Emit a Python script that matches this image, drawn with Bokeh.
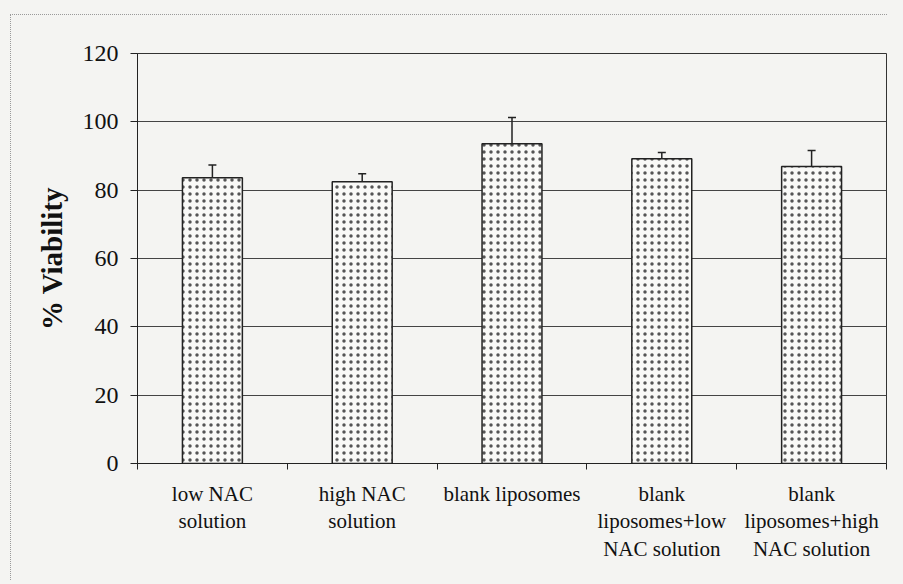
from bokeh.plotting import figure
from bokeh.layouts import column
from bokeh.models import (ColumnDataSource, FixedTicker, Whisker, TeeHead, Range1d,
                          LinearAxis)
from bokeh.embed import file_html
from bokeh.resources import INLINE

categories = ["low NAC\nsolution", "high NAC\nsolution", "blank liposomes",
              "blank\nliposomes+low\nNAC solution", "blank\nliposomes+high\nNAC solution"]
means = [83.6, 82.5, 93.6, 89.2, 86.9]
errors = [3.8, 2.3, 7.7, 1.8, 4.7]
y_ticks = [0, 20, 40, 60, 80, 100, 120]

BG = "#f4f4f2"
FONT = "Liberation Serif"

centers = [i + 0.5 for i in range(len(categories))]
src = ColumnDataSource(dict(x=centers, top=means,
                            upper=[m + e for m, e in zip(means, errors)]))

p = figure(width=877, height=566, output_backend="svg", toolbar_location=None,
           x_range=Range1d(0, len(categories)), y_range=Range1d(0, 120),
           x_axis_location=None, min_border_left=126, min_border_right=2,
           min_border_top=38, min_border_bottom=118)
p.margin = (14, 0, 0, 10)
p.styles = {"border-top": "1px dotted #9a9a9a", "border-left": "1px dotted #9a9a9a"}
p.background_fill_color = BG
p.border_fill_color = BG
p.outline_line_color = "#333333"
p.outline_line_width = 1

# x axis: labels at centers, ticks at category boundaries (minor ticks)
xa = LinearAxis(ticker=FixedTicker(ticks=centers, minor_ticks=list(range(len(categories) + 1))))
xa.major_label_overrides = {c: lab for c, lab in zip(centers, categories)}
xa.major_tick_out = 0
xa.major_tick_in = 0
xa.minor_tick_out = 6
xa.minor_tick_in = 0
xa.minor_tick_line_color = "#222222"
xa.axis_line_color = "#222222"
xa.major_label_text_font = FONT
xa.major_label_text_font_size = "21px"
xa.major_label_text_color = "#111111"
xa.major_label_text_line_height = 1.15
xa.major_label_standoff = 12
p.add_layout(xa, "below")

ya = p.yaxis[0]
ya.ticker = FixedTicker(ticks=y_ticks, minor_ticks=[])
ya.major_tick_out = 7
ya.major_tick_in = 0
ya.major_tick_line_color = "#222222"
ya.axis_line_color = "#222222"
ya.major_label_text_font = FONT
ya.major_label_text_font_size = "24px"
ya.major_label_text_color = "#111111"
ya.major_label_standoff = 12
ya.axis_label = "% Viability"
ya.axis_label_text_font = FONT
ya.axis_label_text_font_size = "29px"
ya.axis_label_text_font_style = "bold"
ya.axis_label_text_color = "#111111"
ya.axis_label_standoff = 12

p.xgrid.visible = False
p.ygrid.ticker = FixedTicker(ticks=y_ticks)
p.ygrid.grid_line_color = "#444444"
p.ygrid.grid_line_width = 1

p.vbar(x="x", top="top", bottom=0, width=0.4, source=src,
       fill_color="#f9f9f7", line_color="#222222", line_width=1.5,
       hatch_pattern="dot", hatch_color="#555555", hatch_scale=7, hatch_weight=1.3)

w = Whisker(base="x", lower="top", upper="upper", source=src, dimension="height",
            line_color="#222222", line_width=1.5, lower_head=None,
            upper_head=TeeHead(size=8, line_color="#222222", line_width=1.5))
p.add_layout(w)

page = column(p, width=903, height=584, styles={"background-color": BG})

open("out.html", "w").write(file_html(page, INLINE))
